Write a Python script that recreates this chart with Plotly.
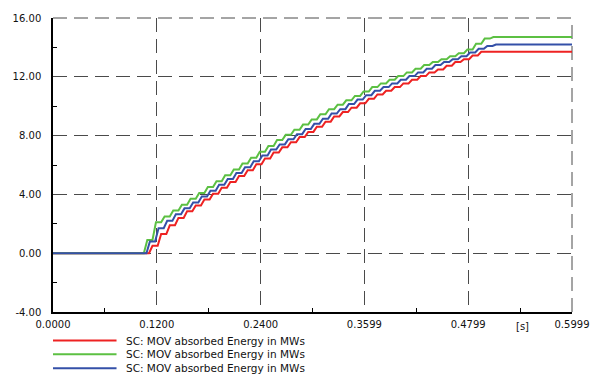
import plotly.graph_objects as go

# ---- data ----
series_names = ["SC: MOV absorbed Energy in MWs"] * 3
step_period = 0.01  # s, half-cycle steps

red_t0 = 0.111
red_steps = [0.5, 1.3, 1.9, 2.4, 2.85, 3.25, 3.65, 4.05, 4.45, 4.85, 5.25, 5.65, 6.05,
             6.45, 6.85, 7.2, 7.55, 7.9, 8.25, 8.6, 8.95, 9.3, 9.6, 9.9, 10.2, 10.5,
             10.8, 11.05, 11.3, 11.55, 11.8, 12.05, 12.3, 12.5, 12.75, 13.0, 13.2,
             13.45, 13.7]

green_t0 = 0.105
green_steps = [0.9, 2.1, 2.5, 2.9, 3.3, 3.7, 4.1, 4.5, 4.9, 5.3, 5.7, 6.1, 6.5, 6.9,
               7.3, 7.7, 8.05, 8.4, 8.75, 9.1, 9.45, 9.8, 10.1, 10.4, 10.7, 11.0,
               11.3, 11.55, 11.8, 12.05, 12.3, 12.55, 12.8, 13.0, 13.2, 13.4,
               13.6, 13.85, 14.25, 14.6, 14.7]

blue_t0 = 0.108
blue_steps = [0.8, 1.7, 2.2, 2.65, 3.05, 3.45, 3.85, 4.25, 4.65, 5.05, 5.45, 5.85,
              6.25, 6.65, 7.05, 7.4, 7.75, 8.1, 8.45, 8.8, 9.15, 9.5, 9.8, 10.15,
              10.45, 10.75, 11.05, 11.3, 11.55, 11.8, 12.05, 12.3, 12.55, 12.8, 13.0,
              13.2, 13.4, 13.65, 13.9, 14.1, 14.2]

x_tickvals = [0.0, 0.12, 0.24, 0.3599, 0.4799, 0.5999]
x_ticktext = ["0.0000", "0.1200", "0.2400", "0.3599", "0.4799", "0.5999"]
y_tickvals = [-4, 0, 4, 8, 12, 16]
y_ticktext = ["-4.00", "0.00", "4.00", "8.00", "12.00", "16.00"]
x_minor = [0.06, 0.18, 0.30, 0.42, 0.54]
y_minor = [-2, 2, 6, 10, 14]
t_end = 0.5999

colors = ["#ee2222", "#5cc043", "#3450a8"]
RISE = 0.004
GRID_COLOR = "#4a4a4a"
GRID_DASH = "14px,7px"


def build(t0, steps):
    xs, ys = [0.0], [0.0]
    prev = 0.0
    for k, v in enumerate(steps):
        t = t0 + k * step_period
        xs += [t, t + RISE]
        ys += [prev, v]
        prev = v
    xs.append(t_end)
    ys.append(prev)
    return xs, ys


fig = go.Figure()
for (t0, st), col, nm in zip([(red_t0, red_steps), (green_t0, green_steps), (blue_t0, blue_steps)],
                             colors, series_names):
    xs, ys = build(t0, st)
    fig.add_trace(go.Scatter(x=xs, y=ys, mode="lines", name=nm, showlegend=False,
                             line=dict(color=col, width=2)))

shapes, annos = [], []
# dashed frame on top and right (grid lines at the range ends)
shapes.append(dict(type="line", xref="paper", yref="paper", x0=0, x1=1, y0=1, y1=1,
                   line=dict(color=GRID_COLOR, width=1, dash=GRID_DASH), layer="below"))
shapes.append(dict(type="line", xref="paper", yref="paper", x0=1, x1=1, y0=0, y1=1,
                   line=dict(color=GRID_COLOR, width=1, dash=GRID_DASH), layer="below"))

# manual legend (compact row spacing as in the reference)
legend_rows_y = [-0.097, -0.144, -0.191]
for yy, col, nm in zip(legend_rows_y, colors, series_names):
    shapes.append(dict(type="line", xref="paper", yref="paper", x0=0.0, x1=0.1224,
                       y0=yy, y1=yy, line=dict(color=col, width=2)))
    annos.append(dict(text=nm, xref="paper", yref="paper", x=0.1377, y=yy,
                      xanchor="left", yanchor="middle", showarrow=False,
                      font=dict(family="DejaVu Sans", size=10.5, color="#111")))
annos.append(dict(text="[s]", xref="paper", yref="paper", x=0.904, y=-0.025,
                  xanchor="center", yanchor="top", showarrow=False,
                  font=dict(family="DejaVu Sans", size=10, color="#111")))

grid = dict(showgrid=True, gridcolor=GRID_COLOR, gridwidth=1, griddash=GRID_DASH)
fig.update_layout(
    width=602, height=379,
    margin=dict(l=53, r=26, t=14, b=67),
    paper_bgcolor="white", plot_bgcolor="white",
    font=dict(family="DejaVu Sans", size=10, color="#111"),
    showlegend=False,
    xaxis=dict(range=[0, t_end], tickmode="array", tickvals=x_tickvals,
               ticktext=x_ticktext,
               showline=True, linecolor="black", linewidth=1.5, zeroline=False,
               ticks="", ticklabelstandoff=2,
               minor=dict(tickvals=x_minor, ticks="inside", ticklen=4, tickcolor="black",
                          showgrid=False),
               **grid),
    yaxis=dict(range=[-4, 16], tickmode="array", tickvals=y_tickvals, ticktext=y_ticktext,
               showline=True, linecolor="black", linewidth=1.5, zeroline=False,
               ticks="", ticklabelstandoff=8,
               minor=dict(tickvals=y_minor, ticks="inside", ticklen=4, tickcolor="black",
                          showgrid=False),
               **grid),
    shapes=shapes,
    annotations=annos,
)

fig.write_html("out.html")
